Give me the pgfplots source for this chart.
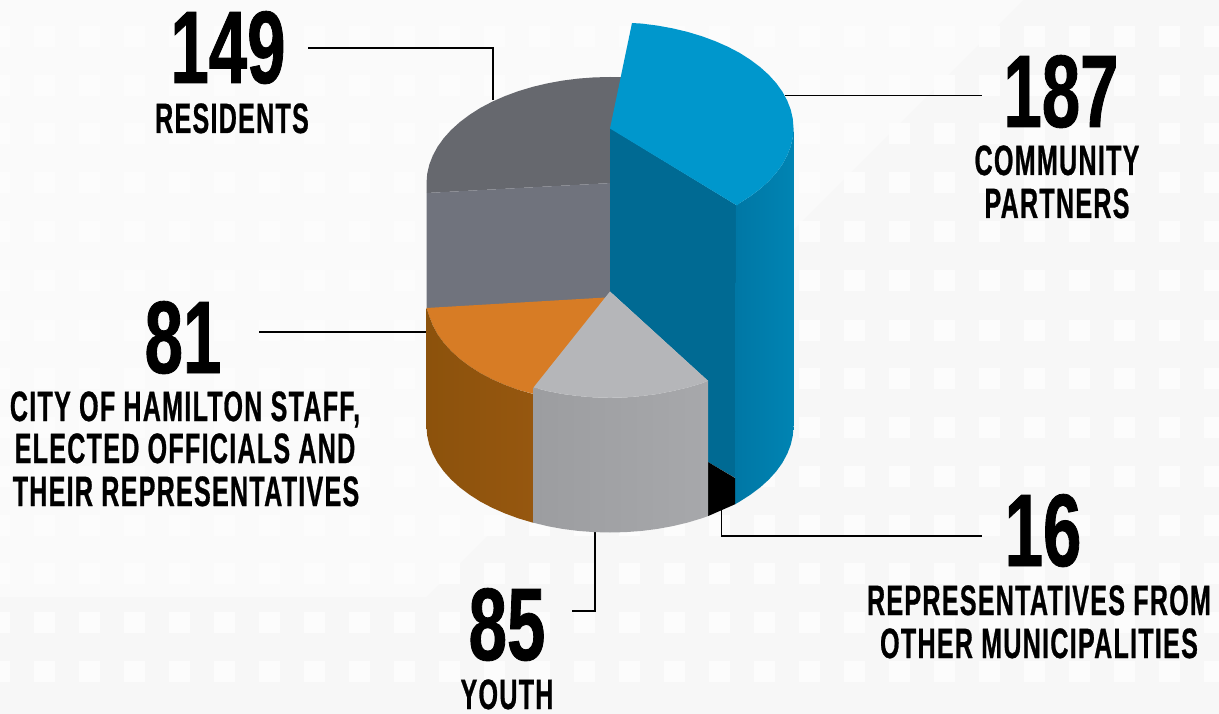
\documentclass[border=0pt]{standalone}
\usepackage{fontspec}
\usepackage{pgfplots}
\pgfplotsset{compat=1.18}
\newfontfamily\numfont[FakeStretch=0.67,FakeBold=0.8]{Liberation Sans}
\newfontfamily\labfont[FakeStretch=0.59,LetterSpace=3,FakeBold=0.6]{Liberation Sans}
\definecolor{bgc}{HTML}{F7F7F7}
\definecolor{bgl}{HTML}{FAFAFA}
\definecolor{sq}{HTML}{FCFCFC}
\definecolor{blueTop}{HTML}{0097CC}
\definecolor{blueIn}{HTML}{006A93}
\definecolor{blueL}{HTML}{0077A5}
\definecolor{blueR}{HTML}{0084B3}
\definecolor{greyTop}{HTML}{66686E}
\definecolor{greyFace}{HTML}{70737D}
\definecolor{orangeTop}{HTML}{D77C25}
\definecolor{brownL}{HTML}{8C520C}
\definecolor{brownR}{HTML}{96570F}
\definecolor{lgTop}{HTML}{B5B6B9}
\definecolor{lgL}{HTML}{9C9DA0}
\definecolor{lgR}{HTML}{A7A8AB}
\tikzset{
  num/.style={anchor=base,inner sep=0pt,font=\numfont\bfseries\fontsize{103}{103}\selectfont},
  lab/.style={anchor=base,inner sep=0pt,font=\labfont\bfseries\fontsize{42.5}{42.5}\selectfont},
}
\begin{document}
\begin{tikzpicture}
\begin{axis}[
  width=1219pt,height=714pt,scale only axis,
  xmin=0,xmax=1219,ymin=0,ymax=714,y dir=reverse,hide axis,
  clip=true,
]
% background
\addplot[draw=none,fill=bgc,forget plot] coordinates {(0,0)(1219,0)(1219,714)(0,714)} --cycle;
\addplot[draw=none,fill=bgl,forget plot] coordinates {(0,0)(1023,0)(426,597)(0,597)} --cycle;
\pgfplotsinvokeforeach{37,86,134,183,232,281,330,378,427,476,525,573,622,671}{
  \addplot[draw=sq,line width=21pt,dash pattern=on 21pt off 24pt,forget plot] coordinates {(-11.5,#1)(1230,#1)};
}
% leader lines
\addplot[black,line width=1.1pt,forget plot] coordinates {(308,48)(493,48)(493,100)};
\addplot[black,line width=1.1pt,forget plot] coordinates {(785,95.7)(982,95.7)};
\addplot[black,line width=1.1pt,forget plot] coordinates {(259,332)(427,332)};
\addplot[black,line width=1.1pt,forget plot] coordinates {(572,611)(595,611)(595,532)};
\addplot[black,line width=1.1pt,forget plot] coordinates {(721.5,510)(721.5,536)(982,536)};
% residents 149
\addplot[draw=none,fill=greyTop,forget plot] coordinates {(426.5,193)(426.5,183)(427.2,173.8)(429.3,164.6)(432.8,155.6)(437.6,146.7)(443.7,138.2)(451.1,130)(459.7,122.2)(469.4,114.9)(480.2,108)(492,101.8)(504.7,96.2)(518.2,91.2)(532.5,86.9)(547.2,83.4)(562.5,80.6)(578.1,78.6)(594,77.4)(610,77)(622,77.1)(612,183)} --cycle;
\addplot[draw=none,fill=greyFace,forget plot] coordinates {(426.5,193)(612,183)(612,292)(606,298)(426.5,309)} --cycle;
% community partners 187
\addplot[draw=none,fill=blueIn,forget plot] coordinates {(610,128)(737,205.5)(735.5,478)(708,462)(708,381)(610,291.5)} --cycle;
\addplot[draw=none,left color=blueL,right color=blueR,forget plot] coordinates {(736,205.5)(739.8,203)(750.6,196.1)(760.3,188.8)(768.9,181)(776.3,172.8)(782.4,164.3)(787.2,155.4)(790.7,146.4)(792.8,137.2)(793.5,128)(793.5,426.5)(792.8,435.7)(790.7,444.9)(787.2,453.9)(782.4,462.8)(776.3,471.3)(768.9,479.5)(760.3,487.3)(750.6,494.6)(739.8,501.5)(735,504.3)} --cycle;
\addplot[draw=none,fill=blueTop,forget plot] coordinates {(610,128.5)(632,23)(641.9,23.6)(657.5,25.6)(672.8,28.4)(687.5,31.9)(701.8,36.2)(715.3,41.2)(728,46.8)(739.8,53)(750.6,59.9)(760.3,67.2)(768.9,75)(776.3,83.2)(782.4,91.7)(787.2,100.6)(790.7,109.6)(792.8,118.8)(793.5,128)(792.8,137.2)(790.7,146.4)(787.2,155.4)(782.4,164.3)(776.3,172.8)(768.9,181)(760.3,188.8)(750.6,196.1)(739.8,203)(737,205.5)} --cycle;
% other municipalities 16
\addplot[draw=none,fill=black,forget plot] coordinates {(708,462)(735,478)(735,504.3)(708,516.1)} --cycle;
% staff 81
\addplot[draw=none,fill=orangeTop,forget plot] coordinates {(426.5,308)(429.3,316.4)(432.8,325.4)(437.6,334.3)(443.7,342.8)(451.1,351)(459.7,358.8)(469.4,366.1)(480.2,373)(492,379.2)(504.7,384.8)(518.2,389.8)(534,394)(606,297.5)} --cycle;
\addplot[draw=none,left color=brownL,right color=brownR,forget plot] coordinates {(426.5,308)(429.3,316.4)(432.8,325.4)(437.6,334.3)(443.7,342.8)(451.1,351)(459.7,358.8)(469.4,366.1)(480.2,373)(492,379.2)(504.7,384.8)(518.2,389.8)(533,394)(533,522.7)(518.2,518.3)(504.7,513.3)(492,507.7)(480.2,501.5)(469.4,494.6)(459.7,487.3)(451.1,479.5)(443.7,471.3)(437.6,462.8)(432.8,453.9)(429.3,444.9)(427.2,435.7)(426.5,426.5)} --cycle;
% youth 85
\addplot[draw=none,left color=lgL,right color=lgR,forget plot] coordinates {(533.5,387.5)(547.2,391)(562.5,394)(578.1,396)(594,397.4)(610,397.8)(626,397.4)(641.9,396)(657.5,394)(672.8,391)(687.5,387.6)(701.8,383.3)(708,380.7)(708,516.1)(701.8,518.3)(687.5,522.6)(672.8,526.1)(657.5,528.9)(641.9,530.9)(626,532.1)(610,532.5)(594,532.1)(578.1,530.9)(562.5,528.9)(547.2,526.1)(533.5,522.7)} --cycle;
\addplot[draw=none,fill=lgTop,forget plot] coordinates {(610,291.5)(708,380.7)(701.8,383.3)(687.5,387.6)(672.8,391)(657.5,394)(641.9,396)(626,397.4)(610,397.8)(594,397.4)(578.1,396)(562.5,394)(547.2,391)(533.5,387.5)} --cycle;
% text
\node[num] at (axis cs:228,83) {149};
\node[lab] at (axis cs:232,133) {RESIDENTS};
\node[num] at (axis cs:1061,127) {187};
\node[lab] at (axis cs:1057,175) {COMMUNITY};
\node[lab] at (axis cs:1057,218) {PARTNERS};
\node[num] at (axis cs:183,373) {81};
\node[lab] at (axis cs:185,421) {CITY OF HAMILTON STAFF,};
\node[lab] at (axis cs:185,463) {ELECTED OFFICIALS AND};
\node[lab] at (axis cs:186,506) {THEIR REPRESENTATIVES};
\node[num] at (axis cs:507,660) {85};
\node[lab] at (axis cs:507,709) {YOUTH};
\node[num] at (axis cs:1043,566) {16};
\node[lab] at (axis cs:1039,615) {REPRESENTATIVES FROM};
\node[lab] at (axis cs:1039,658) {OTHER MUNICIPALITIES};
\end{axis}
\end{tikzpicture}
\end{document}
